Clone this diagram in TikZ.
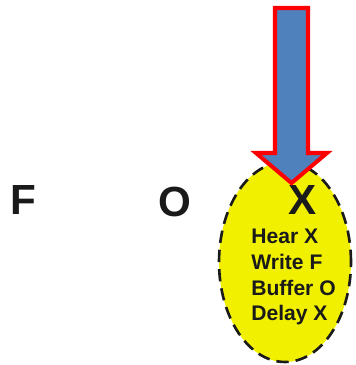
\documentclass[tikz,border=0pt]{standalone}
\usepackage{fontspec}
\setmainfont{Liberation Sans}
\usepackage{tikz}
\usepackage{xcolor}
\usetikzlibrary{shapes.geometric}
\definecolor{markyellow}{HTML}{F0F000}
\definecolor{arrowblue}{HTML}{4F81BD}
\definecolor{arrowred}{HTML}{FF0000}
\definecolor{inkgray}{HTML}{1A1A1A}
\tikzset{
  bigletter/.style={
    font=\fontsize{24}{28}\selectfont\bfseries,
    text=inkgray,
    inner sep=0pt
  },
  focusring/.style={
    ellipse,
    draw=inkgray,
    fill=markyellow,
    line width=1.5pt,
    dash pattern=on 7pt off 4pt,
    minimum width=2.64cm,
    minimum height=4cm,
    inner sep=0pt
  },
  steplist/.style={
    font=\fontsize{12}{14.6}\selectfont\bfseries,
    text=inkgray,
    align=left,
    anchor=north west,
    inner sep=0pt
  },
  pointer/.style={
    draw=arrowred,
    fill=arrowblue,
    line width=2.3pt,
    line join=miter
  }
}

\begin{document}
\begin{tikzpicture}[x=0.02cm,y=-0.02cm]
\useasboundingbox (0,0) rectangle (355,365);
\node[focusring] (ring) at (285,262) {};
\node[bigletter] (letterF) at (23,200) {F};
\node[bigletter] (letterO) at (175,202) {O};
\node[bigletter] (letterX) at (303,200) {X};
\node[steplist] (steps) at (251,229) {Hear X\\Write F\\Buffer O\\Delay X};

\draw[pointer] (275,8) -- (308,8) -- (308,153) -- (327,153) -- (291.5,183)
  -- (256,153) -- (275,153) -- cycle;
\end{tikzpicture}
\end{document}
